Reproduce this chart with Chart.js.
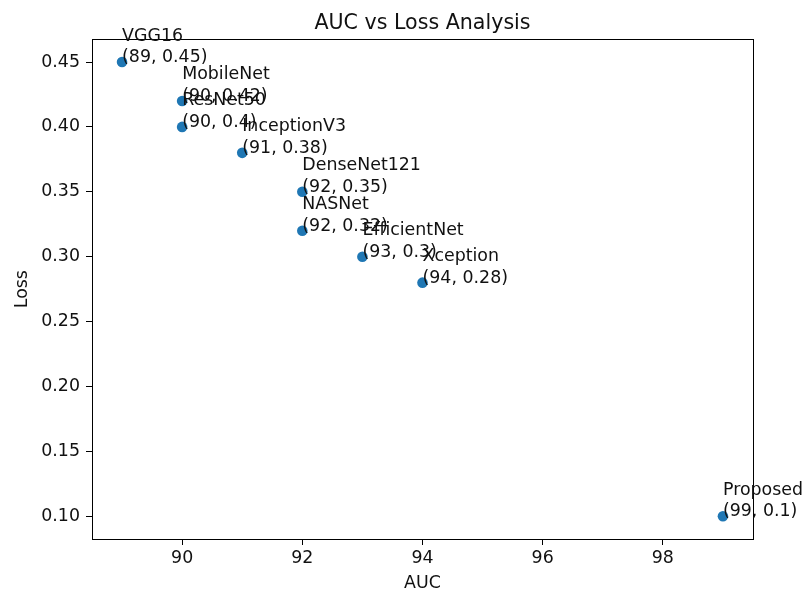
<!DOCTYPE html>
<html>
<head>
<meta charset="utf-8">
<script src="https://cdn.jsdelivr.net/npm/chart.js@4"></script>
<style>
  html, body { margin: 0; padding: 0; background: #fff; }
  canvas { display: block; }
</style>
</head>
<body>
<canvas id="chart" width="806" height="592"></canvas>
<script>
const models = ['VGG16', 'MobileNet', 'ResNet50', 'InceptionV3', 'DenseNet121', 'NASNet', 'EfficientNet', 'Xception', 'Proposed'];
const auc = [89, 90, 90, 91, 92, 92, 93, 94, 99];
const loss = [0.45, 0.42, 0.40, 0.38, 0.35, 0.32, 0.30, 0.28, 0.10];
const xTicks = [90, 92, 94, 96, 98];
const yTicks = [0.10, 0.15, 0.20, 0.25, 0.30, 0.35, 0.40, 0.45];

const FONT = 'DejaVu Sans';
const textColor = '#111';
const FS = 17.4;

// title, axis labels, box and point annotations (matplotlib style)
const decorations = {
  id: 'decorations',
  afterDraw(chart) {
    const ctx = chart.ctx, a = chart.chartArea;
    const xs = chart.scales.x, ys = chart.scales.y;
    ctx.save();
    ctx.strokeStyle = '#000';
    ctx.lineWidth = 1;
    ctx.strokeRect(Math.round(a.left) + 0.5, Math.round(a.top) + 0.5, Math.round(a.right - a.left), Math.round(a.bottom - a.top));

    ctx.fillStyle = textColor;
    ctx.font = `20.6px "${FONT}"`;
    ctx.textAlign = 'center';
    ctx.textBaseline = 'alphabetic';
    ctx.fillText('AUC vs Loss Analysis', (a.left + a.right) / 2, 28.5);

    ctx.font = `${FS}px "${FONT}"`;
    ctx.textBaseline = 'middle';
    ctx.fillText('AUC', (a.left + a.right) / 2, 583);
    ctx.save();
    ctx.translate(22, (a.top + a.bottom) / 2);
    ctx.rotate(-Math.PI / 2);
    ctx.fillText('Loss', 0, 0);
    ctx.restore();

    ctx.textAlign = 'left';
    ctx.textBaseline = 'alphabetic';
    models.forEach((m, i) => {
      const px = xs.getPixelForValue(auc[i]);
      const py = ys.getPixelForValue(loss[i]);
      ctx.fillText(`(${auc[i]}, ${loss[i]})`, px, py);
      ctx.fillText(m, px, py - 21.5);
    });
    ctx.restore();
  }
};

new Chart(document.getElementById('chart'), {
  type: 'scatter',
  data: {
    datasets: [{
      data: auc.map((v, i) => ({ x: v, y: loss[i] })),
      backgroundColor: '#1f77b4',
      borderWidth: 0,
      pointRadius: 5.3,
      pointHoverRadius: 5.3
    }]
  },
  options: {
    responsive: false,
    animation: false,
    layout: { padding: { top: 39.3, right: 53, left: 0, bottom: 0 } },
    plugins: { legend: { display: false }, tooltip: { enabled: false }, title: { display: false } },
    scales: {
      x: {
        type: 'linear',
        min: 88.5, max: 99.5,
        afterBuildTicks: s => { s.ticks = xTicks.map(v => ({ value: v })); },
        afterFit: s => { s.height = 53; },
        grid: { drawOnChartArea: false, drawTicks: true, tickLength: 6, color: '#000', tickColor: '#000' },
        border: { display: true, color: '#000', width: 1 },
        ticks: { color: textColor, font: { family: FONT, size: FS }, padding: 3, maxRotation: 0 }
      },
      y: {
        type: 'linear',
        min: 0.0825, max: 0.4675,
        afterBuildTicks: s => { s.ticks = yTicks.map(v => ({ value: v })); },
        afterFit: s => { s.width = 92; },
        grid: { drawOnChartArea: false, drawTicks: true, tickLength: 6, color: '#000', tickColor: '#000' },
        border: { display: true, color: '#000', width: 1 },
        ticks: { color: textColor, font: { family: FONT, size: FS }, padding: 6, callback: v => v.toFixed(2) }
      }
    }
  },
  plugins: [decorations]
});
</script>
</body>
</html>
